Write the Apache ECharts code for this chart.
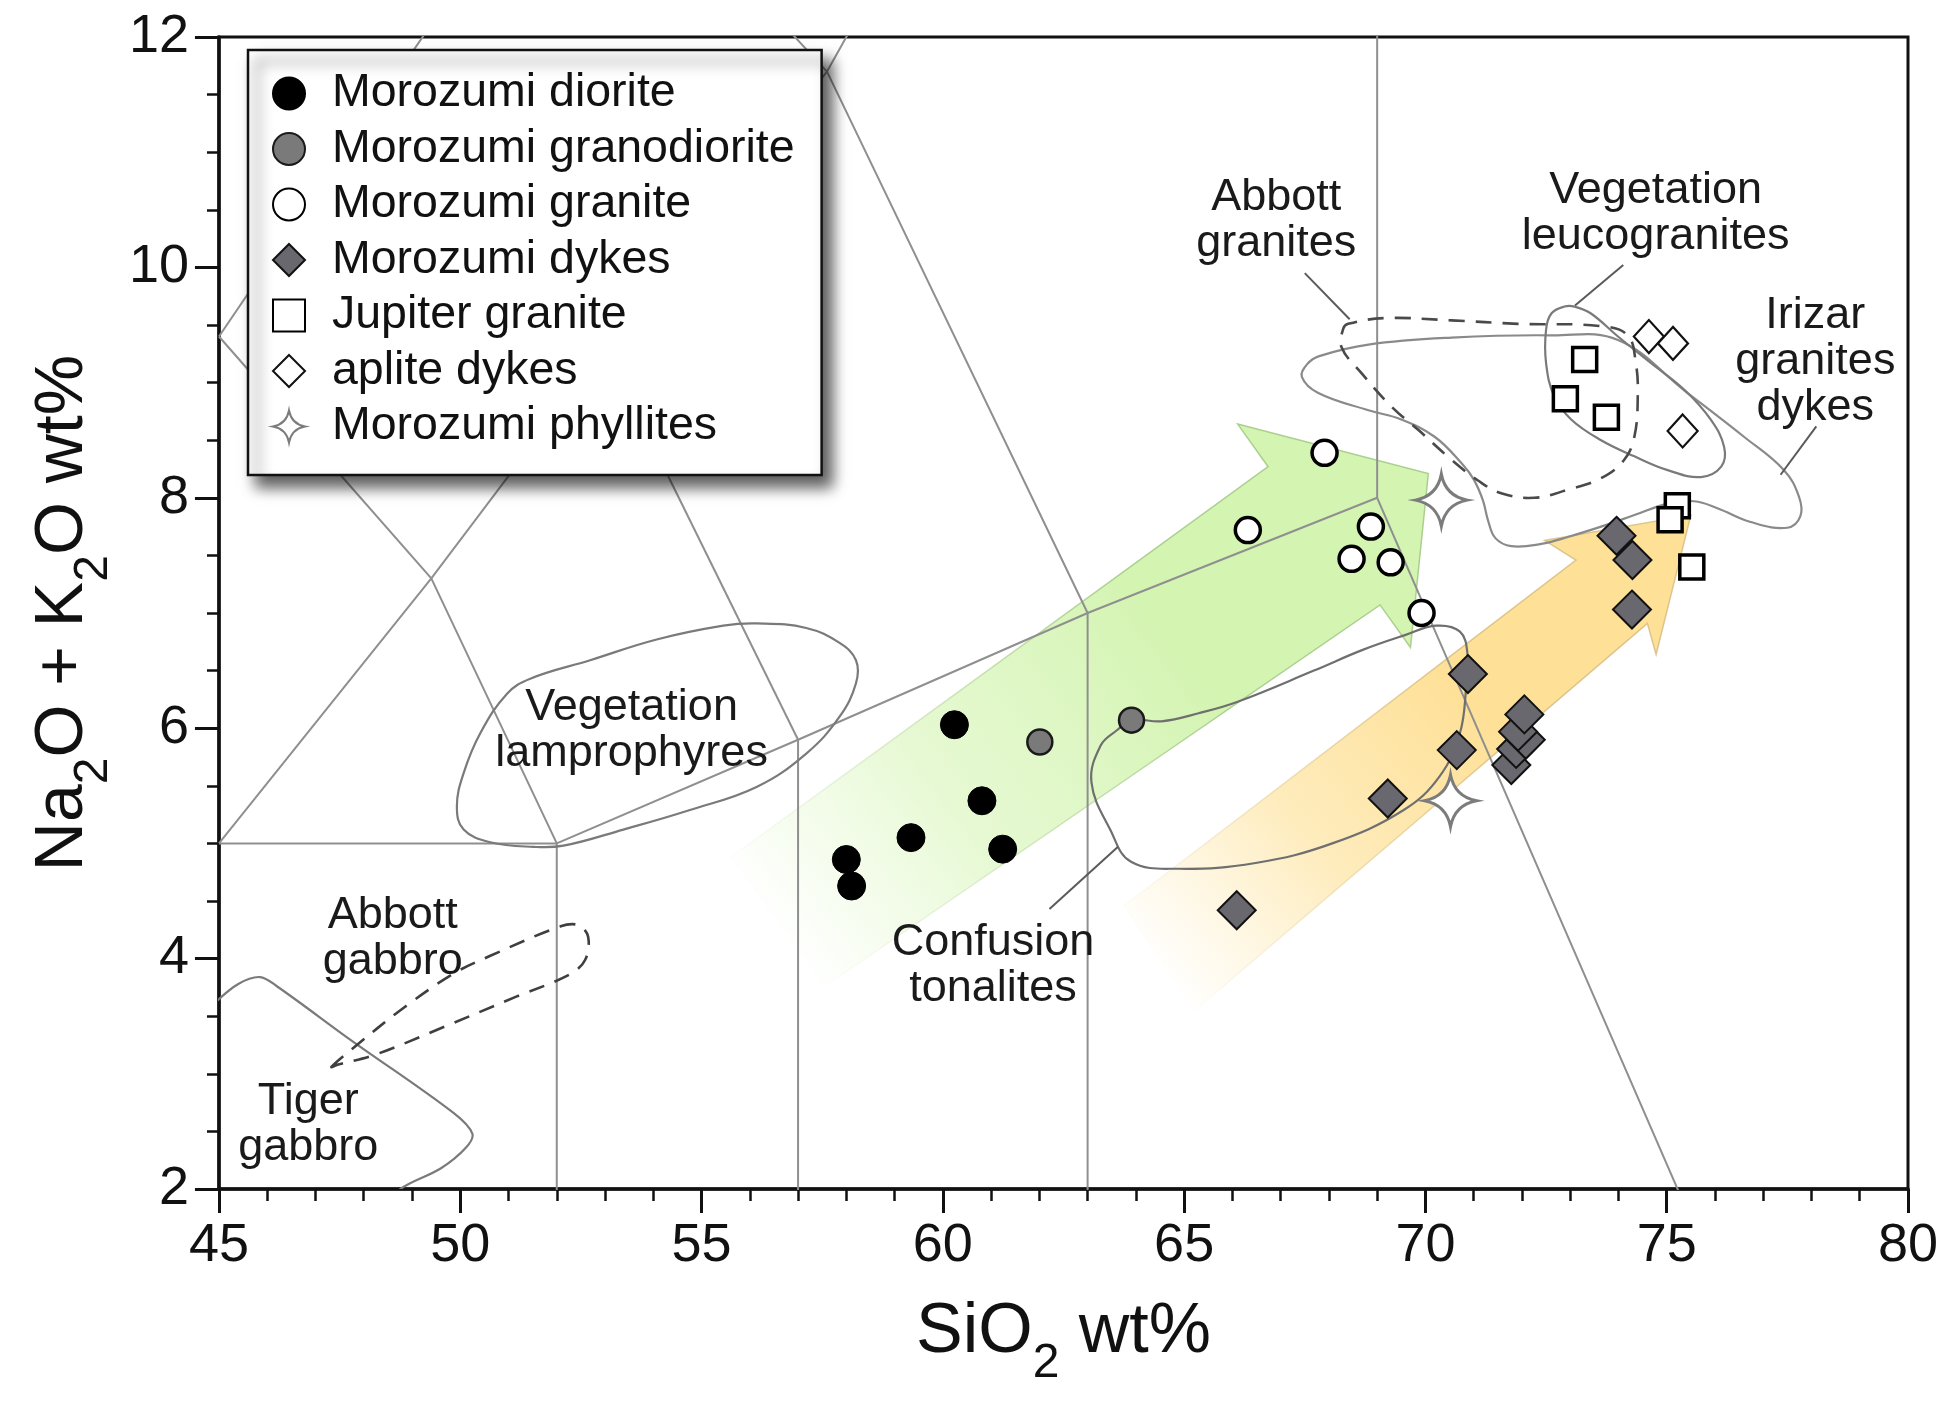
<!DOCTYPE html>
<html><head><meta charset="utf-8">
<script src="https://cdn.jsdelivr.net/npm/echarts/dist/echarts.min.js"></script>
<style>html,body{margin:0;padding:0;background:#fff}#chart{width:1946px;height:1409px}</style>
</head><body><div id="chart"></div>
<script>
// ================= DATA =================
const xTickLabels = ['45','50','55','60','65','70','75','80'];
const yTickLabels = ['2','4','6','8','10','12'];

const dioriteData = [[58.0,4.86],[58.11,4.63],[59.34,5.05],[60.24,6.03],[60.81,5.37],[61.24,4.95]];
const granodioriteData = [[62.01,5.88],[63.91,6.07]];
const graniteData = [[67.91,8.39],[66.32,7.72],[68.87,7.75],[68.47,7.47],[69.28,7.44],[69.92,7.0]];
const dykesData = [[66.09,4.42],[69.22,5.39],[70.65,5.81],[70.88,6.47],[71.78,5.68],[71.88,5.82],[72.08,5.90],[71.92,5.97],[72.05,6.12],[73.96,7.67],[74.29,7.46],[74.28,7.03]];
const jupiterData = [[73.3,9.2],[72.9,8.86],[73.75,8.7],[75.22,7.93],[75.07,7.81],[75.52,7.4]];
const apliteData = [[74.63,9.4],[75.13,9.34],[75.33,8.58]];
const phylliteData = [[70.33,7.98],[70.52,5.37]];

// TAS classification boundaries
const tasLines = [
  [[45,9.4],[49.4,7.3],[52,5]],
  [[45,5],[49.4,7.3],[53,9.3],[57.6,11.7],[58.4,12.3]],
  [[45,5],[52,5],[57,5.9],[63,7],[69,8],[77.3,0]],
  [[45,9.4],[48.4,11.5],[52.5,14]],
  [[53,9.3],[57,5.9]],
  [[52.5,14],[57.6,11.7],[63,7]],
  [[52,0],[52,5]],
  [[57,0],[57,5.9]],
  [[63,0],[63,7]],
  [[69,8],[69,13]]
];

// Field outlines
const tigerGabbro = [[44.9,3.61],[45.4,3.78],[45.85,3.84],[46.2,3.76],[47.74,3.29],[49.86,2.66],[50.25,2.48],[50.12,2.36],[49.6,2.18],[48.76,2.0],[48.5,1.85]];
const abbottGabbro = [[47.33,3.06],[47.74,3.21],[48.85,3.58],[49.86,3.87],[50.6,4.02],[52.08,4.28],[52.45,4.29],[52.65,4.19],[52.59,3.99],[52.26,3.86],[51.16,3.67],[49.68,3.41],[48.2,3.16],[47.47,3.08]];
const lamprophyres = [[49.93,5.32],[50.07,5.12],[50.62,5.01],[51.52,4.97],[52.14,4.98],[53.38,5.12],[54.76,5.29],[56.14,5.49],[57.17,5.78],[57.86,6.1],[58.2,6.39],[58.2,6.59],[57.86,6.74],[57.17,6.87],[56.14,6.91],[55.45,6.89],[54.07,6.77],[52.69,6.59],[51.45,6.43],[50.97,6.3],[50.42,5.96],[50.07,5.61]];
const confusion = [[63.93,6.07],[64.53,6.06],[65.3,6.13],[66.11,6.23],[67.69,6.5],[68.7,6.68],[69.59,6.81],[70.22,6.89],[70.71,6.84],[70.87,6.65],[70.84,6.33],[70.71,5.95],[70.29,5.58],[69.55,5.29],[68.07,5.0],[66.48,4.83],[64.89,4.78],[63.9,4.84],[63.48,5.11],[63.08,5.53],[63.27,5.85],[63.6,5.98]];
const irizar = [[67.44,9.05],[67.55,9.16],[67.8,9.23],[68.82,9.33],[70.54,9.39],[72.61,9.41],[73.99,9.37],[75.4,8.92],[76.6,8.53],[77.43,8.24],[77.74,8.01],[77.77,7.84],[77.5,7.74],[76.74,7.79],[76.05,7.91],[75.57,7.97],[75.02,7.95],[74.33,7.85],[73.64,7.75],[72.95,7.66],[72.4,7.6],[71.78,7.58],[71.45,7.65],[71.3,7.8],[71.19,7.98],[71.0,8.16],[70.75,8.3],[70.19,8.53],[69.5,8.68],[68.82,8.76],[67.78,8.91]];
const leucogranites = [[72.88,9.66],[72.61,9.6],[72.5,9.46],[72.5,9.17],[72.67,8.88],[73.02,8.68],[73.64,8.5],[74.33,8.36],[75.02,8.24],[75.71,8.18],[76.13,8.27],[76.19,8.44],[75.91,8.68],[75.36,8.94],[74.67,9.17],[73.99,9.4],[73.43,9.6],[73.09,9.66]];
const abbottGranites = [[68.3,9.47],[68.4,9.51],[69.16,9.56],[70.54,9.54],[71.92,9.51],[73.64,9.49],[74.19,9.41],[74.36,9.17],[74.4,8.88],[74.33,8.53],[74.12,8.33],[73.64,8.17],[72.95,8.07],[72.26,8.0],[71.57,8.04],[71.09,8.15],[70.54,8.33],[69.85,8.59],[69.3,8.79],[68.68,9.08],[68.26,9.31]];

// Trend arrows
const greenArrow = [[55.61,4.88],[66.74,8.27],[66.11,8.64],[70.06,8.21],[69.69,6.70],[69.06,7.07],[57.56,3.76]];
const orangeArrow = [[63.76,4.46],[73.12,7.46],[72.47,7.63],[75.5,7.85],[74.78,6.64],[74.6,6.91],[65.23,3.55]];

// Leader lines
const leaderLines = [
  [[67.5,9.95],[68.43,9.55]],
  [[74.1,10.02],[73.1,9.67]],
  [[77.36,8.2],[78.1,8.62]],
  [[63.63,4.97],[62.21,4.43]]
];

// Field labels
const fieldLabels = [
  {name:'Vegetation\nlamprophyres', value:[53.55,5.98]},
  {name:'Abbott\ngabbro', value:[48.6,4.17]},
  {name:'Tiger\ngabbro', value:[46.85,2.56]},
  {name:'Confusion\ntonalites', value:[61.04,3.94]},
  {name:'Abbott\ngranites', value:[66.91,10.41]},
  {name:'Vegetation\nleucogranites', value:[74.77,10.47]},
  {name:'Irizar\ngranites\ndykes', value:[78.08,9.18]}
];

// ================= CHART =================
const FONT = '"Liberation Sans", Arial, Helvetica, sans-serif';
const STAR = 'path://M0,-10 Q1.6,-1.6 10,0 Q1.6,1.6 0,10 Q-1.6,1.6 -10,0 Q-1.6,-1.6 0,-10 Z';

const chart = echarts.init(document.getElementById('chart'), null, {renderer:'canvas'});

function outline(pts, closed, dashed, smooth, color, width) {
  return {
    type:'custom', coordinateSystem:'cartesian2d', clip:true, silent:true, z:4,
    data:[pts[0]],
    renderItem: function(params, api){
      return {
        type: closed ? 'polygon' : 'polyline',
        shape: {points: pts.map(p => api.coord(p)), smooth: smooth},
        style: {fill:'none', stroke: color, lineWidth: width, lineDash: dashed ? [16,11] : null}
      };
    }
  };
}

function arrow(pts, from, to, stops, strokeStops) {
  return {
    type:'custom', coordinateSystem:'cartesian2d', clip:true, silent:true, z:1,
    data:[pts[0]],
    renderItem: function(params, api){
      const a = api.coord(from), b = api.coord(to);
      return {
        type:'polygon',
        shape:{points: pts.map(p => api.coord(p))},
        style:{
          fill: new echarts.graphic.LinearGradient(a[0],a[1],b[0],b[1], stops, true),
          stroke: new echarts.graphic.LinearGradient(a[0],a[1],b[0],b[1], strokeStops, true),
          lineWidth: 1.5
        }
      };
    }
  };
}

const series = [];

series.push(arrow(greenArrow, [56.4,4.3], [64.5,6.9],
  [{offset:0,color:'rgba(222,247,196,0)'},{offset:0.45,color:'rgba(222,247,196,0.75)'},{offset:1,color:'rgba(212,244,178,1)'}],
  [{offset:0,color:'rgba(170,205,140,0)'},{offset:1,color:'rgba(160,200,130,0.85)'}]));
series.push(arrow(orangeArrow, [64.3,3.9], [71.0,6.3],
  [{offset:0,color:'rgba(254,232,172,0)'},{offset:0.5,color:'rgba(254,229,165,0.75)'},{offset:1,color:'rgba(254,224,150,1)'}],
  [{offset:0,color:'rgba(225,200,140,0)'},{offset:1,color:'rgba(215,190,130,0.85)'}]));

tasLines.forEach(function(l){
  series.push({type:'line', data:l, symbol:'none', silent:true, z:2, clip:true,
    lineStyle:{color:'#8f8f8f', width:2}, animation:false});
});

series.push(outline(tigerGabbro, false, false, 0.35, '#7a7a7a', 2.2));
series.push(outline(abbottGabbro, true, true, 0.35, '#3f3f3f', 2.6));
series.push(outline(lamprophyres, true, false, 0.4, '#7a7a7a', 2.2));
series.push(outline(confusion, true, false, 0.4, '#6f6f6f', 2.2));
series.push(outline(irizar, true, false, 0.4, '#8a8a8a', 2.2));
series.push(outline(leucogranites, true, false, 0.4, '#7a7a7a', 2.2));
series.push(outline(abbottGranites, true, true, 0.4, '#4a4a4a', 2.6));

leaderLines.forEach(function(l){
  series.push({type:'line', data:l, symbol:'none', silent:true, z:4, clip:true,
    lineStyle:{color:'#5a5a5a', width:2}, animation:false});
});

series.push({
  type:'scatter', data: fieldLabels, symbolSize:1, silent:true, z:6,
  itemStyle:{color:'rgba(0,0,0,0)', opacity:1},
  label:{show:true, position:'inside', formatter:'{b}', fontFamily:FONT, fontSize:45, lineHeight:46,
    color:'#1a1a1a', align:'center', verticalAlign:'middle'},
  labelLayout:{hideOverlap:false}
});

series.push({name:'Morozumi diorite', type:'scatter', data:dioriteData, symbol:'circle', symbolSize:28, z:10,
  itemStyle:{color:'#000', borderColor:'#000', borderWidth:1, opacity:1}});
series.push({name:'Morozumi granodiorite', type:'scatter', data:granodioriteData, symbol:'circle', symbolSize:25, z:10,
  itemStyle:{color:'#7a7a7a', borderColor:'#1a1a1a', borderWidth:2.5, opacity:1}});
series.push({name:'Morozumi granite', type:'scatter', data:graniteData, symbol:'circle', symbolSize:25, z:10,
  itemStyle:{color:'#fff', borderColor:'#000', borderWidth:3.5, opacity:1}});
series.push({name:'Morozumi dykes', type:'scatter', data:dykesData, symbol:'diamond', symbolSize:38, z:10,
  itemStyle:{color:'#68686e', borderColor:'#111', borderWidth:2, opacity:1}});
series.push({name:'Jupiter granite', type:'scatter', data:jupiterData, symbol:'rect', symbolSize:24, z:10,
  itemStyle:{color:'#fff', borderColor:'#000', borderWidth:3.5, opacity:1}});
series.push({name:'aplite dykes', type:'scatter', data:apliteData, symbol:'diamond', symbolSize:[30,33], z:10,
  itemStyle:{color:'#fff', borderColor:'#111', borderWidth:2.2, opacity:1}});
series.push({name:'Morozumi phyllites', type:'scatter', data:phylliteData, symbol:STAR, symbolSize:52, z:10,
  itemStyle:{color:'#fff', borderColor:'#7c7c7c', borderWidth:3, opacity:1}});

const option = {
  animation:false,
  backgroundColor:'#fff',
  grid:{left:215, right:38, top:37, bottom:220, show:true, borderColor:'#111', borderWidth:3, backgroundColor:'transparent'},
  xAxis:{
    type:'value', min:45, max:80, interval:5,
    axisLine:{show:true, lineStyle:{color:'#111', width:3.5}},
    axisTick:{show:true, inside:false, length:24, lineStyle:{color:'#111', width:3}},
    minorTick:{show:true, splitNumber:5, length:12, lineStyle:{color:'#111', width:2.5}},
    splitLine:{show:false},
    axisLabel:{fontFamily:FONT, fontSize:54, color:'#111', margin:30,
      formatter:function(v){ const i = xTickLabels.indexOf(String(v)); return i>=0 ? xTickLabels[i] : ''; }},
    name:'{a|SiO}{s|2}{a| wt%}', nameLocation:'middle', nameGap:84,
    nameTextStyle:{color:'#111', fontFamily:FONT,
      rich:{a:{fontSize:70, lineHeight:70, fontFamily:FONT, color:'#111'},
            s:{fontSize:48, lineHeight:48, fontFamily:FONT, color:'#111', padding:[62,0,0,0]}}}
  },
  yAxis:{
    type:'value', min:2, max:12, interval:2,
    axisLine:{show:true, lineStyle:{color:'#111', width:3.5}},
    axisTick:{show:true, inside:false, length:24, lineStyle:{color:'#111', width:3}},
    minorTick:{show:true, splitNumber:4, length:12, lineStyle:{color:'#111', width:2.5}},
    splitLine:{show:false},
    axisLabel:{fontFamily:FONT, fontSize:54, color:'#111', margin:30,
      formatter:function(v){ const i = yTickLabels.indexOf(String(v)); return i>=0 ? yTickLabels[i] : ''; }},
    name:'{a|Na}{s|2}{a|O + K}{s|2}{a|O wt%}', nameLocation:'middle', nameGap:112, nameRotate:90,
    nameTextStyle:{color:'#111', fontFamily:FONT,
      rich:{a:{fontSize:68, lineHeight:68, fontFamily:FONT, color:'#111'},
            s:{fontSize:48, lineHeight:48, fontFamily:FONT, color:'#111', padding:[62,0,0,0]}}}
  },
  legend:{
    show:true, orient:'vertical', left:248, top:50,
    data:['Morozumi diorite','Morozumi granodiorite','Morozumi granite','Morozumi dykes','Jupiter granite','aplite dykes','Morozumi phyllites'],
    itemWidth:32, itemHeight:32, itemGap:8.5,
    padding:[20,27,25,24],
    backgroundColor:'#fff', borderColor:'#111', borderWidth:2.5, borderRadius:0,
    shadowColor:'rgba(0,0,0,0.65)', shadowBlur:14, shadowOffsetX:9, shadowOffsetY:11,
    textStyle:{fontFamily:FONT, fontSize:46.5, lineHeight:46, color:'#111', padding:[0,0,0,22]},
    selectedMode:false
  },
  series: series
};
chart.setOption(option);
</script>
</body></html>
